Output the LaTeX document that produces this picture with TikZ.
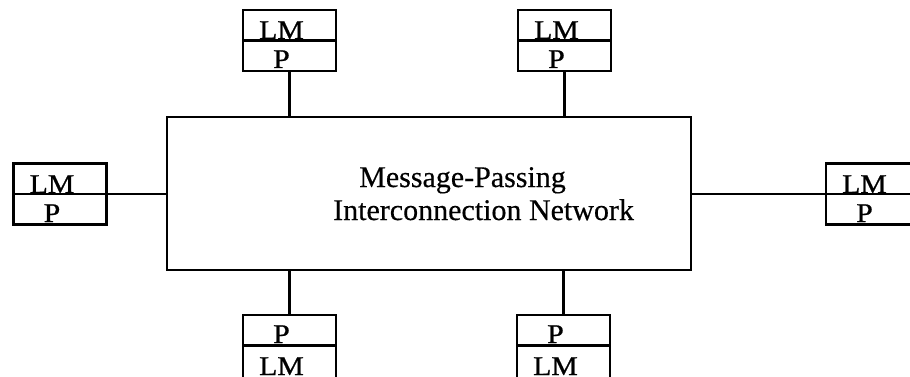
\documentclass[tikz,border=0pt]{standalone}
\usepackage{fontspec}
\setmainfont{Liberation Serif}
\newfontfamily\boxfont[FakeStretch=1.1,FakeBold=0.8]{Liberation Serif}
\newfontfamily\netfont[FakeBold=0.4]{Liberation Serif}
\begin{document}
\begin{tikzpicture}[x=1pt,y=-1pt,
  half/.style={draw,line width=2.3pt,minimum width=93pt,minimum height=30.5pt,inner sep=0pt,outer sep=0pt},
  tallhalf/.style={half,minimum height=40pt},
  lab/.style={anchor=base,inner sep=0pt,font=\boxfont\fontsize{27}{27}\selectfont},
  wire/.style={line width=2.3pt},
  net/.style={draw,line width=2.6pt,minimum width=524pt,minimum height=153pt,inner sep=0pt,outer sep=0pt},
  big/.style={anchor=base west,inner sep=0pt,font=\netfont\fontsize{30}{30}\selectfont}]
\useasboundingbox (0,0) rectangle (910,377);
\clip (0,0) rectangle (910,377);
% network
\node[net] (net) at (429,193.5) {};
\node[big] (t1) at (359,187) {Message-Passing};
\node[big] (t2) at (333,220) {Interconnection Network};
% top-left unit
\node[half] (tlLM) at (289.5,25.25) {};
\node[half] (tlP) at (289.5,55.75) {};
\node[lab] (tlLMt) at (281.5,39) {LM};
\node[lab] (tlPt) at (281.5,68) {P};
% top-right unit
\node[half] (trLM) at (564.5,25.25) {};
\node[half] (trP) at (564.5,55.75) {};
\node[lab] (trLMt) at (556.5,39) {LM};
\node[lab] (trPt) at (556.5,68) {P};
% left unit
\node[half] (lLM) at (60,178.75) {};
\node[half] (lP) at (60,209.25) {};
\node[lab] (lLMt) at (52,193) {LM};
\node[lab] (lPt) at (52,222) {P};
% right unit
\node[half] (rLM) at (872.5,178.75) {};
\node[half] (rP) at (872.5,209.25) {};
\node[lab] (rLMt) at (864.5,193) {LM};
\node[lab] (rPt) at (864.5,222) {P};
% bottom-left unit
\node[half] (blP) at (289.5,330.25) {};
\node[tallhalf] (blLM) at (289.5,365.5) {};
\node[lab] (blPt) at (281.5,343) {P};
\node[lab] (blLMt) at (281.5,375) {LM};
% bottom-right unit
\node[half] (brP) at (563.5,330.25) {};
\node[tallhalf] (brLM) at (563.5,365.5) {};
\node[lab] (brPt) at (555.5,343) {P};
\node[lab] (brLMt) at (555.5,375) {LM};
% connectors
\draw[wire] (tlP.south) -- (tlP.south |- net.north);
\draw[wire] (trP.south) -- (trP.south |- net.north);
\draw[wire] (blP.north) -- (blP.north |- net.south);
\draw[wire] (brP.north) -- (brP.north |- net.south);
\draw[wire] (lP.north east) -- (lP.north east -| net.west);
\draw[wire] (rP.north west) -- (rP.north west -| net.east);
\end{tikzpicture}
\end{document}
